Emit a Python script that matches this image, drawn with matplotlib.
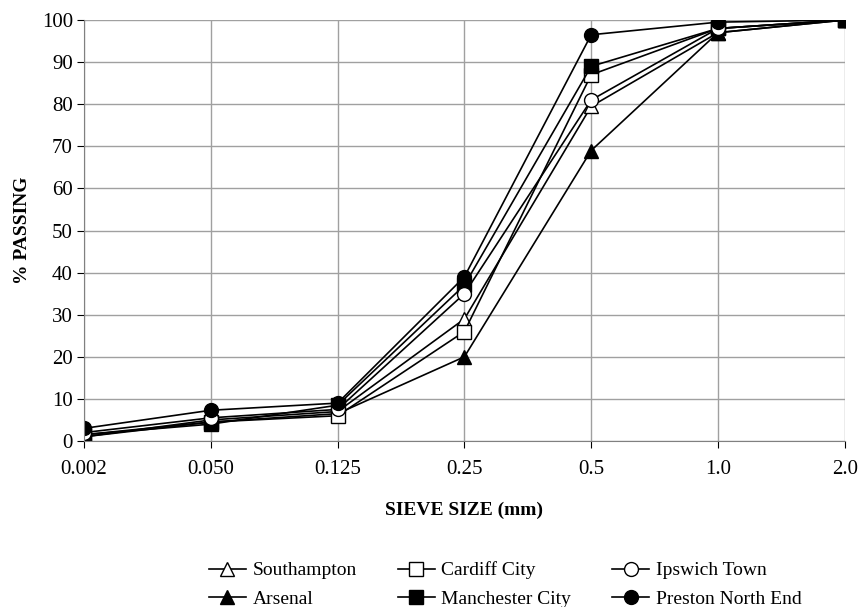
import matplotlib.pyplot as plt

plt.rcParams['font.family'] = ['Liberation Serif', 'DejaVu Serif']

sieve_sizes = ["0.002", "0.050", "0.125", "0.25", "0.5", "1.0", "2.0"]

southampton = [1.0, 5.0, 7.0, 29.0, 79.5, 97.0, 100.0]
cardiff_city = [1.5, 4.5, 6.0, 26.0, 87.0, 98.0, 100.0]
ipswich_town = [2.0, 5.5, 7.5, 35.0, 81.0, 98.0, 100.0]
arsenal = [1.0, 4.5, 6.5, 20.0, 69.0, 97.0, 100.0]
manchester_city = [1.5, 4.0, 8.5, 37.0, 89.0, 98.0, 100.0]
preston_north_end = [3.0, 7.3, 9.0, 39.0, 96.5, 99.5, 100.0]

fig = plt.figure(figsize=(8.62, 6.07), dpi=100)
ax = fig.add_axes([0.0975, 0.2735, 0.8825, 0.6935])

x = list(range(len(sieve_sizes)))

# (label, data, marker, filled) - order chosen so the 3-column legend reads row-wise
series = [
    ("Southampton", southampton, "^", False),
    ("Arsenal", arsenal, "^", True),
    ("Cardiff City", cardiff_city, "s", False),
    ("Manchester City", manchester_city, "s", True),
    ("Ipswich Town", ipswich_town, "o", False),
    ("Preston North End", preston_north_end, "o", True),
]

for label, vals, marker, filled in series:
    ax.plot(x, vals, color="black", linewidth=1.2, marker=marker,
            markersize=10, markerfacecolor="black" if filled else "white",
            markeredgecolor="black", markeredgewidth=1.0, label=label)

ax.set_xlim(0, len(sieve_sizes) - 1)
ax.set_ylim(0, 100)
ax.set_xticks(x)
ax.set_xticklabels(sieve_sizes, fontsize=15)
ax.set_yticks(range(0, 101, 10))
ax.tick_params(axis="y", labelsize=15, length=5, direction="out", pad=3)
ax.tick_params(axis="x", length=5, direction="out", pad=9)
ax.grid(True, color="#a0a0a0", linewidth=1.0)
ax.set_axisbelow(True)
for side in ["top", "right"]:
    ax.spines[side].set_visible(False)
for side in ["left", "bottom"]:
    ax.spines[side].set_color("#808080")

ax.set_xlabel("SIEVE SIZE (mm)", fontsize=14, fontweight="bold", labelpad=16)
ax.set_ylabel("% PASSING", fontsize=14, fontweight="bold", labelpad=8)

fig.legend(loc="lower center", bbox_to_anchor=(0.586, -0.03), ncol=3,
           frameon=False, fontsize=14, handlelength=1.9,
           columnspacing=2.1, handletextpad=0.35, labelspacing=0.55)

fig.savefig("out.png", dpi=100)
